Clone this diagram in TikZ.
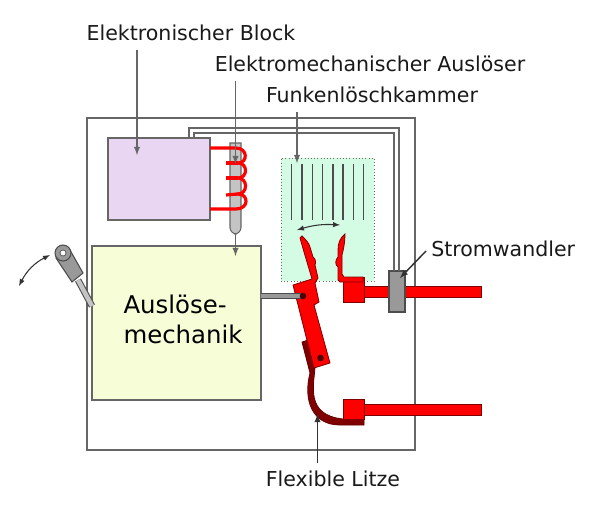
\documentclass[tikz,border=0pt]{standalone}
\usepackage{fontspec}
\setmainfont{DejaVu Sans}
\usepackage{xcolor}
\usepackage{tikz}
\usetikzlibrary{shapes,arrows,positioning,calc}
\definecolor{blockfill}{HTML}{E9D6F2}
\definecolor{mechfill}{HTML}{F7FDD6}
\definecolor{chamberfill}{HTML}{D4FBE4}
\definecolor{linegray}{HTML}{666666}
\definecolor{partgray}{HTML}{999999}
\definecolor{rodgray}{HTML}{C4C4C4}
\definecolor{copper}{HTML}{FF0000}
\definecolor{litze}{HTML}{800000}
\tikzset{
  box/.style={draw=linegray, line width=1pt, inner sep=0pt, outer sep=0pt},
  caption/.style={font=\fontsize{15.4}{18}\selectfont, inner sep=0pt, text=black!90},
  pointer/.style={draw=linegray, line width=1.1pt, -latex},
  swing/.style={draw=black!80, line width=.8pt, latex-latex},
  wire/.style={draw=linegray, line width=1pt},
  metal/.style={draw=litze, line width=.6pt, fill=copper},
  coil/.style={draw=copper, line width=2.4pt},
  plate/.style={draw=black!70, line width=.9pt}
}
\begin{document}
\begin{tikzpicture}[x=0.75pt, y=-0.75pt]
  \useasboundingbox (0,0) rectangle (589,512);
  % housing and main blocks
  \node[box, minimum width=246pt, minimum height=249pt] (housing) at (251,284) {};
  \node[box, fill=blockfill, minimum width=76.5pt, minimum height=61.5pt] (block) at (159,179) {};
  \node[box, fill=mechfill, minimum width=126.75pt, minimum height=115.5pt] (mechanik) at (176.5,323) {};
  \node[align=left, inner sep=0pt, font=\fontsize{18.3}{22.5}\selectfont] (mechtext) at (183,319) {Auslöse-\\mechanik};
  \node[draw=black!60, dotted, fill=chamberfill, inner sep=0pt, minimum width=69.75pt, minimum height=92.25pt] (chamber) at (327.5,219.5) {};
  % arc plates
  \foreach \x in {291.7,302,312.3,322.7,333,343,353.3,363.7}
    \draw[plate] (\x,164) -- (\x,220);
  % trip coil
  \draw[draw=linegray, line width=.8pt, fill=rodgray] (230,143) -- (241,143) -- (241,190) [rounded corners=5pt] -- (241,234) -- (230,234) -- (230,190) [sharp corners] -- cycle;
  \draw[coil] (block.east |- 0,148) -- (236,148) .. controls (248,148) and (248,163) .. (238,163) .. controls (248,163) and (248,178) .. (238,178) .. controls (248,178) and (248,194) .. (238,194) .. controls (249,194) and (249,209) .. (236,209) -- (block.east |- 0,209);
  \draw[coil] (226,163) -- (238,163);
  \draw[coil] (226,178) -- (238,178);
  \draw[coil] (226,195) -- (238,194);
  % flexible strand and terminals
  \draw[draw=black!60!red, line width=.6pt, fill=litze] (302,342) -- (308,340) -- (315,367) .. controls (314,385) and (305,415) .. (343,419) -- (364,419) -- (364,425) -- (340,425) .. controls (312,425) and (303,400) .. (310,373) -- cycle;
  \node[metal, inner sep=0pt, minimum width=15.75pt, minimum height=15pt] (lowerblock) at (353.5,409) {};
  \node[metal, inner sep=0pt, minimum width=87.75pt, minimum height=8.25pt] (lowerbar) at (422.5,409.5) {};
  \node[metal, inner sep=0pt, minimum width=15.75pt, minimum height=18.75pt] (upperblock) at (353.5,289.5) {};
  \node[metal, inner sep=0pt, minimum width=87.75pt, minimum height=8.25pt] (upperbar) at (422.5,291.5) {};
  % wires to the current transformer
  \node[box, draw=black!70, fill=partgray, minimum width=12pt, minimum height=30.75pt] (wandler) at (397,291.5) {};
  \coordinate (wireA) at (189,138);
  \coordinate (wireB) at (194,138);
  \coordinate (wireC) at (399,128);
  \coordinate (wireD) at (394,133);
  \draw[wire] (wireA) |- (wireC) -- (wireC |- wandler.north);
  \draw[wire] (wireB) |- (wireD) -- (wireD |- wandler.north);
  % contacts
  \draw[metal] (345,234) .. controls (340,238) and (338,243) .. (338,250) -- (338,257) .. controls (335,260) and (335,265) .. (338,267) -- (338,280) -- (340,282) -- (363,282) -- (363,277) -- (344,277) -- (342,274) -- (342,255) .. controls (344,248) and (345,240) .. (345,234) -- cycle;
  \draw[metal] (300,238) -- (302,236) .. controls (306,240) and (309,243) .. (310,247) -- (313,257) .. controls (316,259) and (316,263) .. (315,265) -- (318,278) -- (315,283) -- (319,302) -- (314,305) -- (330,363) -- (314,368) -- (295,293) -- (293,285) -- (312,279) -- (304,252) -- cycle;
  \node[circle, fill=black!70!red, inner sep=0pt, minimum size=5pt] (pivot) at (320.5,358) {};
  % push rod
  \coordinate (rodend) at (303,296);
  \draw[draw=black!70, line width=4.6pt] (mechanik.east |- rodend) -- (rodend);
  \draw[draw=partgray, line width=3pt] (mechanik.east |- rodend) -- (rodend);
  \node[circle, fill=black!70!red, inner sep=0pt, minimum size=5pt] (joint) at (rodend) {};
  % handle
  \coordinate (handlerod) at (78,280);
  \coordinate (handlefoot) at (92,306);
  \draw[draw=black!70, line width=5pt] (handlerod) -- (handlefoot);
  \draw[draw=rodgray, line width=3.4pt] (handlerod) -- (handlefoot);
  \draw[draw=black!70, line width=.8pt, fill=partgray] (56,258) -- (72,282) -- (83,273) -- (70,250) -- cycle;
  \node[circle, draw=black!70, line width=.8pt, fill=partgray, minimum size=12pt, inner sep=0pt] (handle) at (63,253) {};
  \node[circle, draw=black!70, line width=.5pt, fill=white, minimum size=4.5pt, inner sep=0pt] (hole) at (handle) {};
  % labels
  \node[caption] (blocklabel) at (191,33) {Elektronischer Block};
  \node[caption] (auslabel) at (370,64) {Elektromechanischer Auslöser};
  \node[caption] (funklabel) at (372,95) {Funkenlöschkammer};
  \node[caption, anchor=west] (stromlabel) at (431,249) {Stromwandler};
  \node[caption] (litzelabel) at (333,479) {Flexible Litze};
  % pointers
  \coordinate (blockstart) at (137,50);
  \coordinate (blockend) at (137,155);
  \coordinate (ausstart) at (235.5,81);
  \coordinate (ausend) at (235.5,164);
  \coordinate (rodbottom) at (235.5,234);
  \coordinate (mechtop) at (235.5,256);
  \coordinate (funkstart) at (297,112);
  \coordinate (funkend) at (297,163);
  \coordinate (stromstart) at (426,251);
  \coordinate (stromend) at (400,278);
  \coordinate (litzestart) at (317.5,463);
  \coordinate (litzeend) at (317.5,414);
  \coordinate (swingA) at (297,230);
  \coordinate (swingB) at (340,225);
  \coordinate (leverA) at (19,286);
  \coordinate (leverB) at (50,255);
  \draw[pointer] (blockstart) -- (blockend);
  \draw[pointer] (ausstart) -- (ausend);
  \draw[pointer] (rodbottom) -- (mechtop);
  \draw[pointer] (funkstart) -- (funkend);
  \draw[pointer, draw=black!80] (stromstart) -- (stromend);
  \draw[pointer, draw=black!80] (litzestart) -- (litzeend);
  \draw[swing] (swingA) to[bend left=10] (swingB);
  \draw[swing] (leverA) to[bend left=18] (leverB);
\end{tikzpicture}
\end{document}
